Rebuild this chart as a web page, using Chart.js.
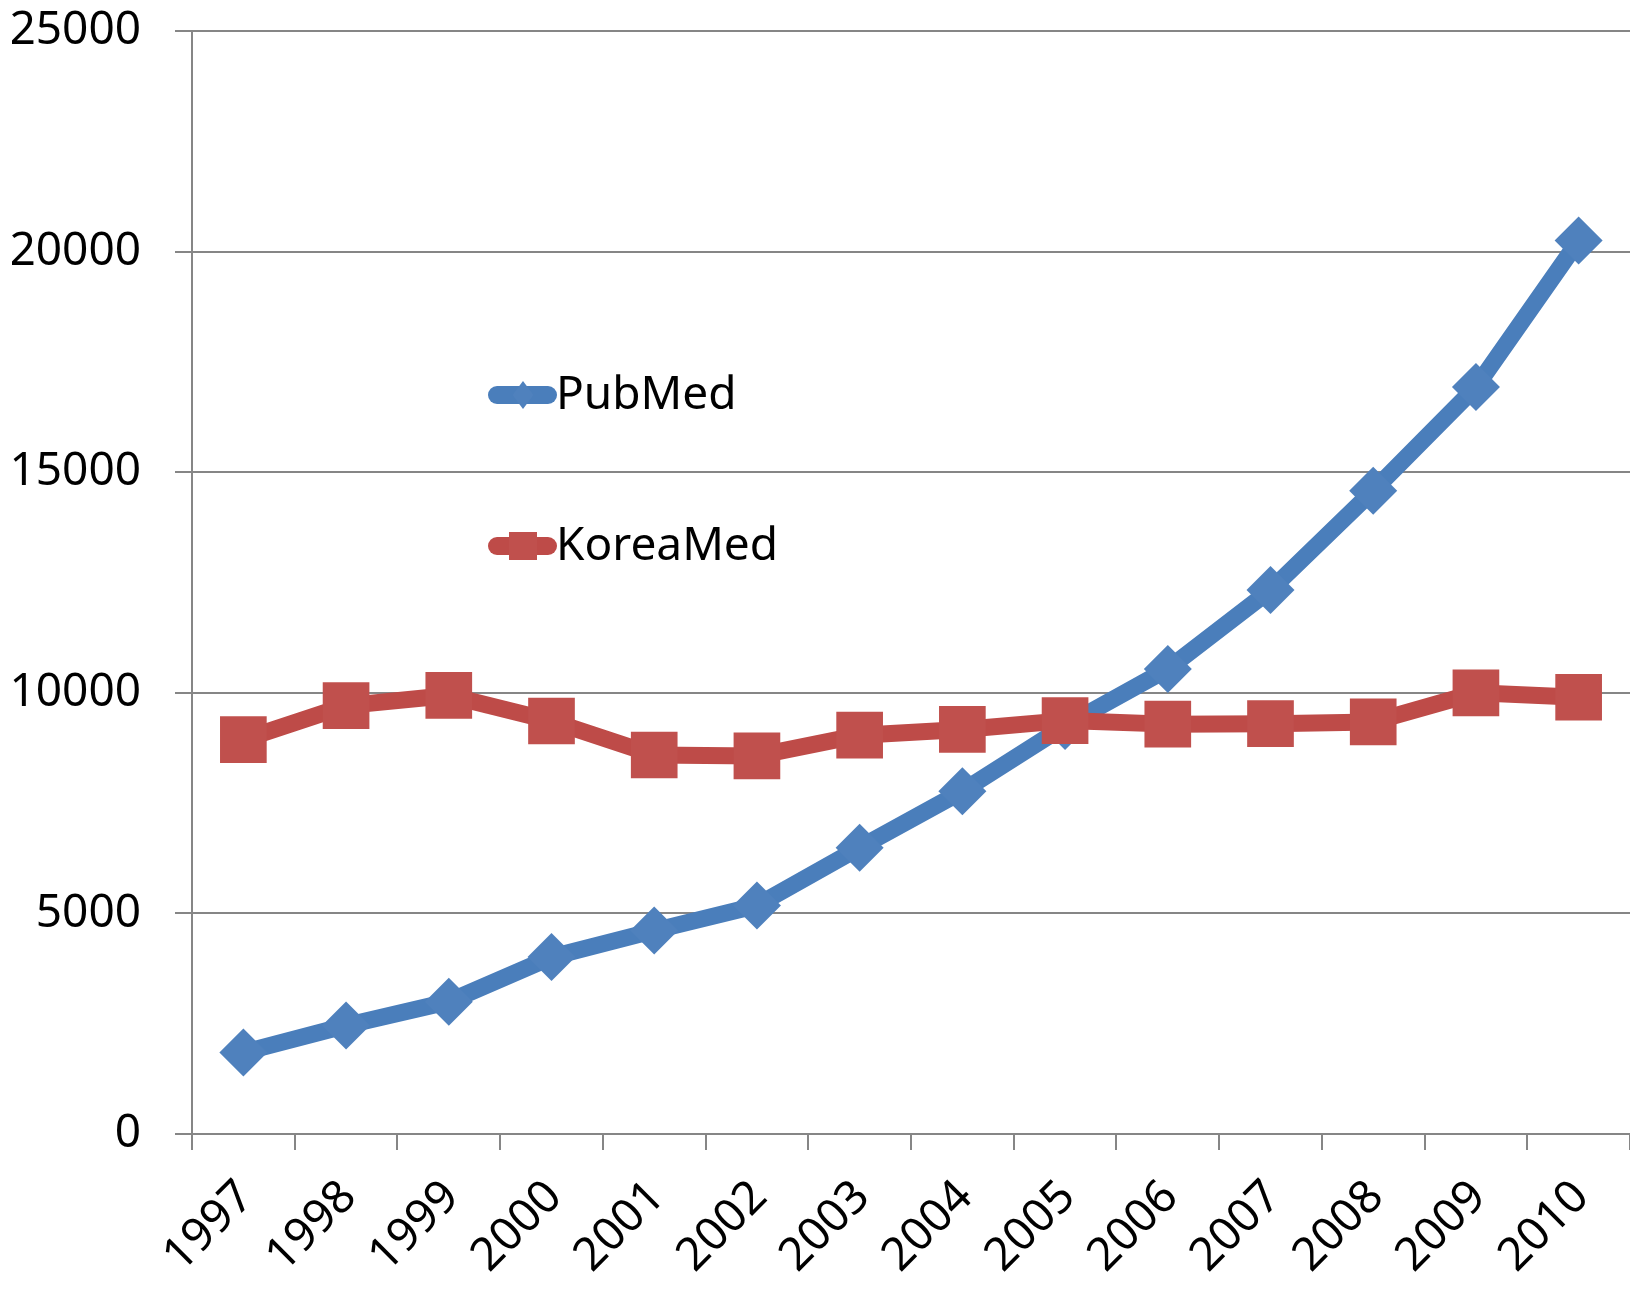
<!DOCTYPE html>
<html>
<head>
<meta charset="utf-8">
<script src="https://cdn.jsdelivr.net/npm/chart.js@4/dist/chart.umd.min.js"></script>
<style>
  html, body { margin: 0; padding: 0; background: #fff; }
  #wrap { width: 1630px; height: 1289px; }
</style>
</head>
<body>
<div id="wrap"><canvas id="c" width="1630" height="1289"></canvas></div>
<script>
const years = ['1997','1998','1999','2000','2001','2002','2003','2004','2005','2006','2007','2008','2009','2010'];
const pubmed = [1850, 2460, 3000, 4010, 4610, 5180, 6490, 7770, 9250, 10540, 12330, 14580, 16930, 20250];
const koreamed = [8940, 9710, 9940, 9360, 8590, 8570, 9040, 9170, 9370, 9290, 9300, 9340, 10000, 9900];
const seriesNames = ['PubMed', 'KoreaMed'];
const yTicks = [0, 5000, 10000, 15000, 20000, 25000];

const FONT = '"Noto Sans", "Open Sans", sans-serif';

const inlineLegend = {
  id: 'inlineLegend',
  afterDraw(chart) {
    const ctx = chart.ctx;
    const slots = [395, 546];
    ctx.save();
    chart.data.datasets.forEach((ds, i) => {
      const y = slots[i];
      ctx.strokeStyle = ds.borderColor;
      ctx.lineWidth = 18;
      ctx.lineCap = 'round';
      ctx.beginPath();
      ctx.moveTo(497, y);
      ctx.lineTo(548, y);
      ctx.stroke();
      ctx.fillStyle = ds.pointBackgroundColor;
      ctx.beginPath();
      if (ds.pointStyle === 'rectRot') {
        ctx.moveTo(523, y - 14);
        ctx.lineTo(533.5, y);
        ctx.lineTo(523, y + 14);
        ctx.lineTo(512.5, y);
        ctx.closePath();
      } else {
        ctx.rect(509, y - 14, 28, 28);
      }
      ctx.fill();
      ctx.fillStyle = '#000';
      ctx.font = '46px ' + FONT;
      ctx.textBaseline = 'middle';
      ctx.textAlign = 'left';
      ctx.fillText(ds.label, 556, y + 1);
    });
    ctx.restore();
  }
};

new Chart(document.getElementById('c'), {
  type: 'line',
  data: {
    labels: years,
    datasets: [
      {
        label: seriesNames[0],
        data: pubmed,
        borderColor: '#4A7EBB',
        backgroundColor: '#4F81BD',
        pointBackgroundColor: '#4F81BD',
        pointBorderColor: '#4F81BD',
        pointBorderWidth: 0,
        borderWidth: 17,
        borderJoinStyle: 'round',
        pointStyle: 'rectRot',
        pointRadius: 24,
        tension: 0,
        order: 1
      },
      {
        label: seriesNames[1],
        data: koreamed,
        borderColor: '#BE4B48',
        backgroundColor: '#C0504D',
        pointBackgroundColor: '#C0504D',
        pointBorderColor: '#C0504D',
        pointBorderWidth: 0,
        borderWidth: 17,
        borderJoinStyle: 'round',
        pointStyle: 'rect',
        pointRadius: 33,
        tension: 0,
        order: 0
      }
    ]
  },
  options: {
    responsive: false,
    devicePixelRatio: 1,
    animation: false,
    layout: { autoPadding: false, padding: { left: 12, top: 0, right: 0, bottom: 0 } },
    plugins: { legend: { display: false }, tooltip: { enabled: false } },
    scales: {
      x: {
        type: 'category',
        offset: true,
        afterFit(scale) { scale.height = 155; scale.paddingLeft = 0; scale.paddingRight = 0; },
        grid: {
          offset: true,
          drawOnChartArea: false,
          drawTicks: true,
          tickLength: 16,
          color: '#868686',
          lineWidth: 2
        },
        border: { display: true, color: '#868686', width: 2 },
        ticks: {
          autoSkip: false,
          maxRotation: 45,
          minRotation: 45,
          padding: 20,
          labelOffset: 3,
          color: '#000',
          font: { family: FONT, size: 46 }
        }
      },
      y: {
        min: 0,
        max: 25000,
        afterBuildTicks(scale) { scale.ticks = yTicks.map(v => ({ value: v })); },
        afterFit(scale) { scale.width = 180; scale.paddingTop = 31; scale.paddingBottom = 0; },
        grid: {
          drawOnChartArea: true,
          drawTicks: true,
          tickLength: 17,
          color: '#868686',
          lineWidth: 2
        },
        border: { display: true, color: '#868686', width: 2 },
        ticks: {
          padding: 34,
          color: '#000',
          font: { family: FONT, size: 46, lineHeight: 1 },
          callback: v => String(v)
        }
      }
    }
  },
  plugins: [inlineLegend]
});
</script>
</body>
</html>
